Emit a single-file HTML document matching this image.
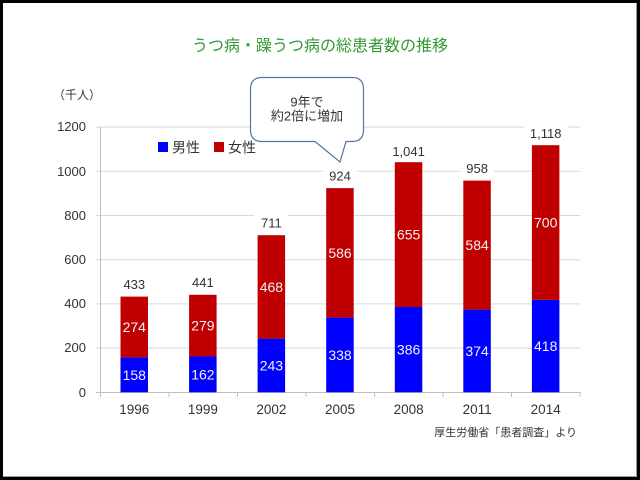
<!DOCTYPE html>
<html><head><meta charset="utf-8"><style>
html,body{margin:0;padding:0;background:#fff;}
svg{display:block;}
text{font-family:"Liberation Sans","Noto Sans CJK JP",sans-serif;}
</style></head><body>
<svg width="640" height="480" viewBox="0 0 640 480" xmlns="http://www.w3.org/2000/svg">
<rect x="0" y="0" width="640" height="480" fill="#000"/>
<rect x="3" y="3" width="634" height="474" fill="#9a9a9a"/>
<rect x="3" y="3" width="633" height="473" fill="#fff"/>

<text x="320" y="51" font-size="16" fill="#339933" text-anchor="middle">うつ病・躁うつ病の総患者数の推移</text>

<text x="53" y="99" font-size="12" fill="#333">（千人）</text>

<g stroke="#d9d9d9" stroke-width="1">
<line x1="96" y1="127.1" x2="580" y2="127.1"/>
<line x1="96" y1="171.3" x2="580" y2="171.3"/>
<line x1="96" y1="215.5" x2="580" y2="215.5"/>
<line x1="96" y1="259.7" x2="580" y2="259.7"/>
<line x1="96" y1="303.9" x2="580" y2="303.9"/>
<line x1="96" y1="348.1" x2="580" y2="348.1"/>
</g>
<g stroke="#bfbfbf" stroke-width="1">
<line x1="100.5" y1="127" x2="100.5" y2="397"/>
<line x1="96" y1="392.5" x2="580" y2="392.5"/>
<line x1="169" y1="392" x2="169" y2="397"/>
<line x1="237.5" y1="392" x2="237.5" y2="397"/>
<line x1="306" y1="392" x2="306" y2="397"/>
<line x1="374.5" y1="392" x2="374.5" y2="397"/>
<line x1="443" y1="392" x2="443" y2="397"/>
<line x1="511.5" y1="392" x2="511.5" y2="397"/>
<line x1="580" y1="392" x2="580" y2="397"/>
</g>

<g font-size="13" fill="#333" text-anchor="end">
<text x="86" y="131">1200</text>
<text x="86" y="176">1000</text>
<text x="86" y="220">800</text>
<text x="86" y="264">600</text>
<text x="86" y="308">400</text>
<text x="86" y="352">200</text>
<text x="86" y="397">0</text>
</g>

<g font-size="13.5" fill="#333" text-anchor="middle">
<text x="134.3" y="414">1996</text>
<text x="202.9" y="414">1999</text>
<text x="271.4" y="414">2002</text>
<text x="340" y="414">2005</text>
<text x="408.6" y="414">2008</text>
<text x="477.1" y="414">2011</text>
<text x="545.7" y="414">2014</text>
</g>

<!-- bars -->
<g>
<rect x="120.5" y="357.4" width="27.5" height="34.9" fill="#0000ff"/>
<rect x="120.5" y="296.6" width="27.5" height="60.8" fill="#c00000"/>
<rect x="189.1" y="356.5" width="27.5" height="35.8" fill="#0000ff"/>
<rect x="189.1" y="294.8" width="27.5" height="61.7" fill="#c00000"/>
<rect x="257.6" y="338.6" width="27.5" height="53.7" fill="#0000ff"/>
<rect x="257.6" y="235.2" width="27.5" height="103.4" fill="#c00000"/>
<rect x="326.2" y="317.6" width="27.5" height="74.7" fill="#0000ff"/>
<rect x="326.2" y="188.1" width="27.5" height="129.5" fill="#c00000"/>
<rect x="394.8" y="307" width="27.5" height="85.3" fill="#0000ff"/>
<rect x="394.8" y="162.2" width="27.5" height="144.8" fill="#c00000"/>
<rect x="463.3" y="309.6" width="27.5" height="82.7" fill="#0000ff"/>
<rect x="463.3" y="180.6" width="27.5" height="129" fill="#c00000"/>
<rect x="531.9" y="299.9" width="27.5" height="92.4" fill="#0000ff"/>
<rect x="531.9" y="145.2" width="27.5" height="154.7" fill="#c00000"/>
</g>

<g font-size="14" fill="#f2f2f2" text-anchor="middle">
<text x="134.3" y="380">158</text>
<text x="134.3" y="332">274</text>
<text x="202.9" y="379.5">162</text>
<text x="202.9" y="330.5">279</text>
<text x="271.4" y="370.5">243</text>
<text x="271.4" y="292">468</text>
<text x="340" y="360">338</text>
<text x="340" y="258">586</text>
<text x="408.6" y="354.5">386</text>
<text x="408.6" y="239.5">655</text>
<text x="477.1" y="356">374</text>
<text x="477.1" y="250">584</text>
<text x="545.7" y="351">418</text>
<text x="545.7" y="227.5">700</text>
</g>

<g fill="#fff">
<rect x="117" y="276" width="34" height="16"/>
<rect x="186" y="274" width="34" height="16"/>
<rect x="254" y="214" width="34" height="16"/>
<rect x="323" y="167" width="34" height="16"/>
<rect x="387" y="143" width="44" height="16"/>
<rect x="460" y="160" width="34" height="16"/>
<rect x="524" y="125" width="44" height="16"/>
</g>
<g font-size="13" fill="#333" text-anchor="middle">
<text x="134.3" y="289">433</text>
<text x="202.9" y="287">441</text>
<text x="271.4" y="227.5">711</text>
<text x="340" y="180.5">924</text>
<text x="408.6" y="156">1,041</text>
<text x="477.1" y="173">958</text>
<text x="545.7" y="138">1,118</text>
</g>

<!-- legend -->
<rect x="158" y="142" width="10" height="10" fill="#0000ff"/>
<text x="172" y="152.5" font-size="14" fill="#333">男性</text>
<rect x="214" y="142" width="10" height="10" fill="#c00000"/>
<text x="228" y="152.5" font-size="14" fill="#333">女性</text>

<!-- callout -->
<path d="M262,77.5 L352,77.5 Q363.5,77.5 363.5,89 L363.5,130 Q363.5,141.5 352,141.5 L346,141.5 L340,162 L315,141.5 L262,141.5 Q250.5,141.5 250.5,130 L250.5,89 Q250.5,77.5 262,77.5 Z" fill="#fff" stroke="#5574a8" stroke-width="1.2"/>
<g font-size="13" fill="#333" text-anchor="middle">
<text x="307" y="106.5">9年で</text>
<text x="307" y="120.5">約2倍に増加</text>
</g>

<text x="577" y="436" font-size="11" fill="#333" text-anchor="end">厚生労働省「患者調査」より</text>
</svg>
</body></html>
